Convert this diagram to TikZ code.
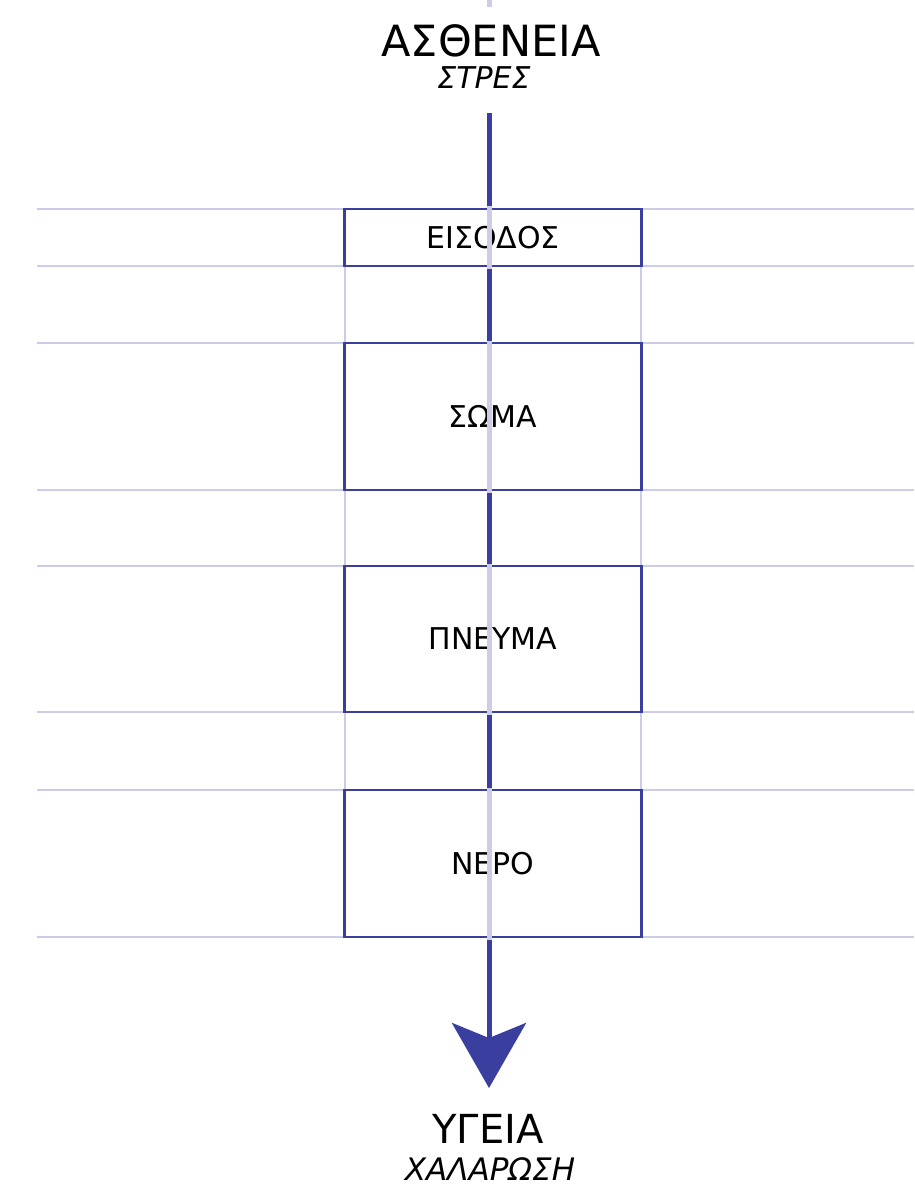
\documentclass[tikz,border=0pt]{standalone}
\usepackage{fontspec}
\setmainfont{DejaVu Sans}
\usepackage{tikz}
\usetikzlibrary{arrows.meta}
\definecolor{axisblue}{RGB}{58,62,158}
\definecolor{guideblue}{RGB}{204,204,232}
\newcommand{\boxfont}{\fontsize{30}{34}\selectfont}

\begin{document}
\begin{tikzpicture}[x=1pt,y=-1pt,
  guide/.style={draw=guideblue,line width=2pt},
  centreguide/.style={draw=guideblue,line width=5pt},
  flow/.style={draw=axisblue,line width=5pt},
  stage/.style={draw=axisblue,line width=2.5pt,fill=white,rectangle,minimum width=297pt,inner sep=0pt,font=\boxfont}]
  \useasboundingbox[fill=white] (0,0) rectangle (914,1198);
  \foreach \y in {209,266,343,490,566,712,790,937}
    \draw[guide] (37,\y) -- (914,\y);
  \draw[guide] (345,209) -- (345,937);
  \draw[guide] (641,209) -- (641,937);
  \draw[centreguide] (489,0) -- (489,7);
  \coordinate (axtop) at (489,113);
  \coordinate (axtip) at (489,1088);
  \draw[flow,-{Stealth[length=65pt,width=74pt,inset=15pt]}] (axtop) -- (axtip);
  \node[stage,minimum height=57pt] (eisodos) at (493,237.5) {ΕΙΣΟΔΟΣ};
  \node[stage,minimum height=147pt] (soma) at (493,416.5) {ΣΩΜΑ};
  \node[stage,minimum height=146pt] (pneuma) at (493,639) {ΠΝΕΥΜΑ};
  \node[stage,minimum height=147pt] (nero) at (493,863.5) {ΝΕΡΟ};
  \foreach \b in {eisodos,soma,pneuma,nero}
    \draw[centreguide] ([yshift=1.25pt]\b.north -| axtop) -- ([yshift=-1.25pt]\b.south -| axtop);
  \node[anchor=base,inner sep=0pt,font=\fontsize{43}{48}\selectfont] (astheneia) at (491,57) {ΑΣΘΕΝΕΙΑ};
  \node[anchor=base,inner sep=0pt,font=\fontsize{30}{34}\selectfont\itshape] (stres) at (484,89) {ΣΤΡΕΣ};
  \node[anchor=base,inner sep=0pt,font=\fontsize{40}{46}\selectfont] (ygeia) at (488,1143) {ΥΓΕΙΑ};
  \node[anchor=base,inner sep=0pt,font=\fontsize{31}{36}\selectfont\itshape] (xalarosi) at (490,1180) {ΧΑΛΑΡΩΣΗ};
\end{tikzpicture}
\end{document}
